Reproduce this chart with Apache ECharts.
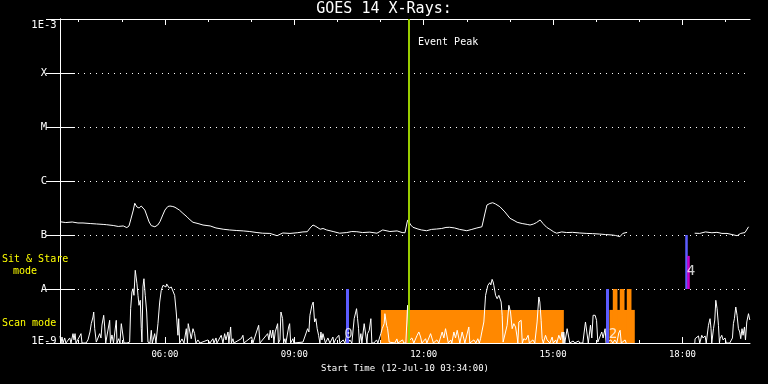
<!DOCTYPE html>
<html><head><meta charset="utf-8">
<script src="https://cdn.jsdelivr.net/npm/echarts@6/dist/echarts.min.js"></script>
<style>html,body{margin:0;padding:0;background:#000}#c{width:768px;height:384px}</style>
</head><body><div id="c"></div>
<script>
// Time axis: minutes elapsed since the start time 03:34:00
const startClockMin = 3 * 60 + 34;
const axisSpanMin = 960;
const hourTicks = [26,86,146,206,266,326,386,446,506,566,626,686,746,806,866,926];
const labelTicks = [146,326,506,686,866];
const yLevelLabels = ['1E-9','A','B','C','M','X','1E-3'];

// GOES long channel (upper curve)
const hiTime = [0,8,17,25,32,42,51,60,65,74,
81,88,93,96,99,102,104,107,110,113,
115,118,121,124,127,132,136,139,143,146,
150,153,157,160,166,171,177,181,185,192,
199,209,217,227,236,246,255,264,274,282,
292,302,310,320,330,338,344,348,352,356,
362,366,371,380,389,399,406,413,421,431,
441,449,459,469,476,480,483,484,488,491,
498,503,510,517,524,531,537,542,549,556,
566,573,580,587,591,594,598,602,606,612,
619,626,633,636,643,650,654,659,663,668,
672,677,683,687,691,698,705,713,723,733,
741,751,759,768,773,779,783,789,836,883,
890,898,907,914,921,928,935,942,947,953,
955,958];
const hiFlux = [1.76e-7,1.70e-7,1.74e-7,1.67e-7,1.67e-7,1.63e-7,1.60e-7,1.57e-7,1.55e-7,1.50e-7,
1.44e-7,1.47e-7,1.37e-7,1.47e-7,2.06e-7,2.90e-7,3.87e-7,3.30e-7,3.16e-7,3.44e-7,
3.59e-7,2.90e-7,2.25e-7,1.74e-7,1.49e-7,1.42e-7,1.53e-7,1.76e-7,2.35e-7,2.90e-7,
3.37e-7,3.44e-7,3.37e-7,3.26e-7,2.90e-7,2.52e-7,2.15e-7,1.90e-7,1.72e-7,1.63e-7,
1.53e-7,1.47e-7,1.35e-7,1.28e-7,1.24e-7,1.21e-7,1.19e-7,1.16e-7,1.11e-7,1.08e-7,
1.07e-7,9.7e-8,1.09e-7,1.07e-7,1.10e-7,1.14e-7,1.15e-7,1.35e-7,1.53e-7,1.44e-7,
1.28e-7,1.32e-7,1.24e-7,1.16e-7,1.08e-7,1.11e-7,1.16e-7,1.15e-7,1.11e-7,1.13e-7,
1.08e-7,1.24e-7,1.16e-7,1.19e-7,1.11e-7,1.10e-7,1.74e-7,1.90e-7,1.53e-7,1.39e-7,
1.29e-7,1.24e-7,1.20e-7,1.27e-7,1.29e-7,1.32e-7,1.38e-7,1.39e-7,1.35e-7,1.27e-7,
1.20e-7,1.27e-7,1.35e-7,1.42e-7,2.45e-7,3.59e-7,3.83e-7,3.96e-7,3.75e-7,3.34e-7,
2.67e-7,2.04e-7,1.82e-7,1.72e-7,1.63e-7,1.57e-7,1.53e-7,1.60e-7,1.70e-7,1.90e-7,
1.63e-7,1.39e-7,1.24e-7,1.14e-7,1.08e-7,1.14e-7,1.11e-7,1.12e-7,1.09e-7,1.07e-7,
1.06e-7,1.04e-7,1.02e-7,1.00e-7,9.8e-8,9.3e-8,1.07e-7,1.12e-7,null,1.08e-7,
1.07e-7,1.14e-7,1.10e-7,1.12e-7,1.07e-7,1.07e-7,1.02e-7,9.7e-8,1.07e-7,1.11e-7,
1.15e-7,1.42e-7];

// GOES short channel (lower, spiky curve)
const loTime = [0,1.4,2.8,4.2,6.5,8.3,13.5,15.3,18.1,19.5,
20.9,22.3,29.2,30.6,36.2,38.9,41.7,43.5,45.9,46.9,
48.3,50.5,52.9,55.2,57.0,58.4,60.8,62.2,63.6,65.4,
69.1,70.2,72.3,74.4,78.3,79.3,81.6,83.4,85.3,87.6,
89.0,93.2,96.9,98.3,100.1,101.5,102.9,104.7,106.1,107.1,
108.5,109.9,111.7,113.1,114.0,115.4,116.8,118.6,120.6,122.4,
125.2,127.0,128.4,131.7,133.5,136.3,138.7,140.9,143.3,145.6,
147.4,148.4,150.2,152.0,154.8,157.2,159.5,161.7,164.1,165.1,
166.5,169.7,172.5,175.7,177.3,178.4,180.4,182.6,185.0,187.3,
189.1,191.9,194.7,205.8,208.6,212.8,214.2,217.0,218.4,224.3,
226.7,229.1,230.9,233.7,235.0,237.4,238.5,240.6,242.0,252.2,
254.5,255.9,266.6,268.4,276.4,278.2,288.9,290.7,292.5,294.4,
296.2,297.6,299.4,302.8,303.9,306.0,307.4,309.7,311.1,312.9,
314.3,318.1,319.5,320.9,324.1,325.4,338.0,340.7,344.5,346.3,
347.7,350.5,352.3,354.2,356.0,357.8,359.8,361.6,363.0,364.4,
365.8,367.6,369.3,372.7,375.5,379.7,381.1,383.9,386.6,388.0,
389.4,394.0,396.4,399.2,400.6,403.3,406.1,409.3,412.6,414.0,
415.4,416.5,418.6,420.0,423.2,425.6,427.0,428.0,430.2,432.5,
433.9,436.7,440.5,442.3,446.4,448.3,451.0,452.0,454.4,455.8,
458.0,460.4,465.9,468.7,470.1,476.6,478.4,481.2,483.6,485.4,
486.8,489.6,492.3,496.9,499.3,501.7,503.5,508.6,510.4,515.6,
517.8,519.5,524.3,527.1,531.7,534.1,536.4,538.7,540.3,543.8,
545.2,548.0,550.3,552.6,554.9,556.3,559.5,561.9,563.3,568.8,
570.2,575.8,578.6,581.3,583.4,585.1,586.9,589.7,592.1,595.3,
598.0,599.4,601.2,602.6,603.6,606.0,608.2,610.6,612.9,613.8,
615.2,616.5,618.9,622.1,624.5,626.8,629.1,631.4,633.8,636.0,
637.0,638.4,641.6,643.2,645.3,648.1,651.3,653.0,657.9,660.6,
663.8,666.2,667.6,669.4,670.8,672.4,675.5,677.7,680.1,681.5,
684.7,686.3,689.8,691.2,694.0,696.4,698.6,700.0,700.9,702.3,
705.6,707.9,709.3,713.9,716.3,721.4,723.2,727.4,731.1,733.4,
735.0,738.1,739.9,741.7,742.3,744.5,746.5,748.3,749.6,753.8,
755.6,758.4,759.8,762.2,766.3,769.1,771.9,774.7,777.4,779.3,
780.9,786.2,787.8,836,883.2,883.6,886.0,888.3,890.1,892.9,
894.7,897.5,899.1,902.2,904.4,905.8,906.8,909.2,911.0,912.4,
914.2,916.1,917.5,918.3,920.7,922.5,925.3,926.9,931.8,935.6,
936.9,938.3,940.2,942.0,943.9,945.7,947.1,948.9,950.3,952.3,
953.7,955.5,957.9,959.7];
const loFlux = [1.35e-9,1e-9,1.29e-9,1e-9,1.24e-9,1e-9,1.24e-9,1e-9,1.49e-9,1.14e-9,
1.49e-9,1e-9,1.49e-9,1e-9,1e-9,1.14e-9,1.6e-9,2.28e-9,3.03e-9,3.75e-9,
1.84e-9,1.04e-9,1e-9,1.49e-9,1.24e-9,2.15e-9,3.26e-9,1.98e-9,1e-9,1e-9,
2.63e-9,1e-9,1.41e-9,1e-9,2.63e-9,1e-9,1.2e-9,1e-9,2.28e-9,2.28e-9,
1e-9,1e-9,1.04e-9,4.32e-9,8.8e-9,10.1e-9,7.64e-9,22.2e-9,20.6e-9,12.5e-9,
7.64e-9,4.99e-9,6.18e-9,1.84e-9,1.04e-9,10.9e-9,15.5e-9,7.64e-9,3.75e-9,1.04e-9,
1e-9,1.72e-9,1e-9,1.49e-9,1e-9,2.28e-9,5.74e-9,9.46e-9,11.7e-9,12.5e-9,
10.9e-9,12.4e-9,11.7e-9,10.4e-9,10.9e-9,10.1e-9,7.64e-9,3.75e-9,1.39e-9,2.82e-9,
1e-9,1.19e-9,1e-9,1.84e-9,1e-9,2.28e-9,2.15e-9,1.2e-9,1.84e-9,1.49e-9,
1e-9,1.14e-9,1e-9,1.14e-9,1e-9,1.2e-9,1e-9,1.24e-9,1e-9,1.39e-9,
1e-9,1.49e-9,1.14e-9,1.6e-9,1e-9,1.98e-9,1e-9,1.2e-9,1e-9,1.2e-9,
1.39e-9,1e-9,1.29e-9,1e-9,2.13e-9,1e-9,1.49e-9,1.14e-9,1.72e-9,1.24e-9,
1.74e-9,1e-9,1.6e-9,2.28e-9,1e-9,1.14e-9,3.75e-9,2.82e-9,1e-9,1.2e-9,
1e-9,1.98e-9,2.28e-9,1e-9,1.2e-9,1e-9,1.04e-9,1e-9,1.84e-9,1.6e-9,
3.26e-9,4.99e-9,5.74e-9,2.45e-9,2.82e-9,1.84e-9,1.39e-9,1e-9,1.6e-9,1.14e-9,
1.49e-9,1.49e-9,1e-9,1.24e-9,1e-9,1.29e-9,1e-9,1.2e-9,1.14e-9,1.39e-9,
1e-9,1.14e-9,1e-9,1.49e-9,1e-9,1.14e-9,1e-9,2.82e-9,4.32e-9,2.82e-9,
1.84e-9,1e-9,1.49e-9,1e-9,2.28e-9,2.28e-9,1e-9,1.49e-9,1.72e-9,2.82e-9,
1e-9,1e-9,1.14e-9,1e-9,1.49e-9,1.84e-9,2.28e-9,3.49e-9,2.13e-9,1.84e-9,
1.04e-9,1e-9,1e-9,1.19e-9,1e-9,1.14e-9,1e-9,1e-9,4.99e-9,1.29e-9,
1.14e-9,1.24e-9,1e-9,1.39e-9,1.6e-9,1.29e-9,1e-9,1.2e-9,1e-9,1.49e-9,
1.49e-9,1e-9,1.14e-9,1e-9,1.6e-9,1.24e-9,1.84e-9,1.98e-9,1e-9,1.14e-9,
1e-9,1.6e-9,1.24e-9,1.72e-9,1.72e-9,1e-9,1.6e-9,1.6e-9,1e-9,1.98e-9,
1e-9,1.14e-9,1e-9,1.2e-9,1e-9,1.2e-9,1.6e-9,2.45e-9,7.64e-9,11.7e-9,
13.1e-9,11.9e-9,15.1e-9,13.5e-9,11.7e-9,7.64e-9,6.61e-9,7.64e-9,7.11e-9,5.74e-9,
3.26e-9,1.04e-9,1e-9,2.13e-9,4.99e-9,3.75e-9,1.84e-9,2.28e-9,1.98e-9,1.29e-9,
1e-9,2.45e-9,2.63e-9,1e-9,1.2e-9,1.14e-9,1.39e-9,1e-9,1.14e-9,1e-9,
2.45e-9,7.11e-9,5.74e-9,2.63e-9,1.2e-9,1e-9,1.39e-9,1.14e-9,1.2e-9,1e-9,
1.29e-9,1e-9,1.14e-9,1e-9,1.39e-9,1.14e-9,1.6e-9,1e-9,1.6e-9,1e-9,
1.84e-9,1.84e-9,1e-9,1.09e-9,1e-9,1.09e-9,1e-9,1e-9,2.45e-9,2.28e-9,
1e-9,2.15e-9,1.24e-9,3.26e-9,3.49e-9,3.26e-9,2.63e-9,1.04e-9,1e-9,1.6e-9,
1.24e-9,1.84e-9,1e-9,1e-9,1.14e-9,1e-9,1.14e-9,1e-9,1.53e-9,1.72e-9,
1e-9,1.14e-9,1e-9,null,1e-9,1.2e-9,1.14e-9,1.35e-9,1e-9,1.39e-9,
1.24e-9,1.35e-9,1e-9,2.13e-9,2.82e-9,1.84e-9,1e-9,1.84e-9,2.67e-9,6.18e-9,
4.32e-9,2.13e-9,1e-9,1.2e-9,1.39e-9,1.14e-9,1.24e-9,1e-9,1e-9,1.24e-9,
2.28e-9,2.82e-9,4.64e-9,3.26e-9,1.84e-9,1.6e-9,1.2e-9,1.84e-9,1.39e-9,1.98e-9,
1.14e-9,2.45e-9,3.49e-9,2.67e-9];

// Observing-mode blocks (orange)
const modeStart = [446.4, 764.5, 769.1, 778.8, 788.6];
const modeEnd   = [701.0, 799.7, 775.6, 785.4, 795.1];
const modeTop   = [4.1e-9, 4.1e-9, 1e-8, 1e-8, 1e-8];
const modeBase  = 1e-9;

// Vertical event markers
const markTime  = [399.6, 761.4, 871.8, 874.6];
const markLow   = [1e-9, 1e-9, 1e-8, 1e-8];
const markHigh  = [1e-8, 1e-8, 1e-7, 4.1e-8];
const markKind  = ['blue', 'blue', 'blue', 'magenta'];

// Event number labels
const numText = ['0', '2', '4'];
const numTime = [401.5, 769.5, 878];
const numFlux = [1.47e-9, 1.47e-9, 2.1e-8];

// Event peak time
const peakTime = 485.4;

const colors = { blue: '#5c5cff', magenta: '#cc00cc' };
const mono = '"DejaVu Sans Mono", "Liberation Mono", monospace';

function clock(v) {
  const t = startClockMin + v;
  const h = Math.floor(t / 60) % 24, m = Math.round(t % 60);
  return String(h).padStart(2, '0') + ':' + String(m).padStart(2, '0');
}

const chart = echarts.init(document.getElementById('c'), null, { renderer: 'canvas' });
const baseX = { type: 'value', min: 0, max: axisSpanMin, splitLine: { show: false } };
const baseY = { type: 'log', logBase: 10, min: 1e-9, max: 1e-3 };

chart.setOption({
  backgroundColor: '#000',
  animation: false,
  title: {
    text: 'GOES 14 X-Rays:', left: 'center', top: 2, padding: 0,
    textStyle: { color: '#fff', fontFamily: mono, fontSize: 15, fontWeight: 'normal' }
  },
  grid: { left: 60, right: 18, top: 19, bottom: 41 },
  xAxis: [
    Object.assign({}, baseX, {
      position: 'bottom',
      axisLine: { show: true, lineStyle: { color: '#fff', width: 1 } },
      axisTick: { show: true, inside: true, length: 6, customValues: labelTicks, lineStyle: { color: '#fff' } },
      axisLabel: { show: true, customValues: labelTicks, formatter: clock, color: '#fff', fontFamily: mono, fontSize: 9, margin: 7 },
      name: 'Start Time (12-Jul-10 03:34:00)', nameLocation: 'middle', nameGap: 19,
      nameTextStyle: { color: '#fff', fontFamily: mono, fontSize: 9 }
    }),
    Object.assign({}, baseX, {
      position: 'bottom',
      axisLine: { show: false },
      axisTick: { show: true, inside: true, length: 3, customValues: hourTicks, lineStyle: { color: '#fff' } },
      axisLabel: { show: false }
    }),
    Object.assign({}, baseX, {
      position: 'top',
      axisLine: { show: true, lineStyle: { color: '#fff', width: 1 } },
      axisTick: { show: true, inside: true, length: 6, customValues: labelTicks, lineStyle: { color: '#fff' } },
      axisLabel: { show: false }
    }),
    Object.assign({}, baseX, {
      position: 'top',
      axisLine: { show: false },
      axisTick: { show: true, inside: true, length: 3, customValues: hourTicks, lineStyle: { color: '#fff' } },
      axisLabel: { show: false }
    })
  ],
  yAxis: [
    Object.assign({}, baseY, {
      position: 'left',
      axisLine: { show: true, lineStyle: { color: '#fff', width: 1 } },
      axisTick: { show: true, inside: true, length: 15, lineStyle: { color: '#fff' } },
      axisLabel: {
        color: '#fff', fontFamily: mono, fontSize: 10.5, align: 'center', margin: 16,
        formatter: function (v) {
          const i = Math.round(Math.log10(v)) + 9;
          const s = yLevelLabels[i];
          if (i === 0) return '{lo|' + s + '}';
          if (i === yLevelLabels.length - 1) return '{hi|' + s + '}';
          return s;
        },
        rich: {
          lo: { color: '#fff', fontFamily: mono, fontSize: 10.5, padding: [0, 0, 3, 0] },
          hi: { color: '#fff', fontFamily: mono, fontSize: 10.5, padding: [12, 0, 0, 0] }
        }
      },
      splitLine: { show: true, lineStyle: { color: '#fff', width: 1, type: [1, 5] } }
    }),
    Object.assign({}, baseY, {
      position: 'right',
      axisLine: { show: true, lineStyle: { color: '#fff', width: 1 } },
      axisTick: { show: true, inside: true, length: 14, lineStyle: { color: '#fff' } },
      axisLabel: { show: false },
      splitLine: { show: false }
    })
  ],
  graphic: [
    { type: 'text', z: 10, style: { text: 'Sit & Stare', x: 2, y: 259, verticalAlign: 'middle', fill: '#ffff00', font: '10px ' + mono } },
    { type: 'text', z: 10, style: { text: 'mode', x: 13, y: 271, verticalAlign: 'middle', fill: '#ffff00', font: '10px ' + mono } },
    { type: 'text', z: 10, style: { text: 'Scan mode', x: 2, y: 323.5, verticalAlign: 'middle', fill: '#ffff00', font: '10px ' + mono } },
    { type: 'text', z: 10, style: { text: 'Event Peak', x: 418, y: 42, verticalAlign: 'middle', fill: '#fff', font: '10px ' + mono } }
  ],
  series: [
    {
      name: 'modes', type: 'line', data: [], z: 1, silent: true,
      markArea: {
        silent: true,
        itemStyle: { color: '#ff8800', opacity: 1 },
        data: modeStart.map((s, i) => [{ coord: [s, modeBase] }, { coord: [modeEnd[i], modeTop[i]] }])
      }
    },
    {
      name: 'low', type: 'line', z: 3, showSymbol: false, symbol: 'none', connectNulls: false,
      lineStyle: { color: '#fff', width: 1 }, silent: true,
      data: loTime.map((t, i) => [t, loFlux[i]])
    },
    {
      name: 'high', type: 'line', z: 3, showSymbol: false, symbol: 'none', connectNulls: false,
      lineStyle: { color: '#fff', width: 1 }, silent: true,
      data: hiTime.map((t, i) => [t, hiFlux[i]])
    },
    {
      name: 'markers', type: 'line', data: [], z: 4, silent: true,
      markLine: {
        silent: true, symbol: ['none', 'none'], label: { show: false },
        data: markTime.map((t, i) => [
          { coord: [t, markLow[i]], lineStyle: { color: colors[markKind[i]], width: markKind[i] === 'blue' && i < 2 ? 3 : 2.5, type: 'solid' } },
          { coord: [t, markHigh[i]] }
        ])
      }
    },
    {
      name: 'peak', type: 'line', data: [], z: 5, silent: true,
      markLine: {
        silent: true, symbol: ['none', 'none'], label: { show: false },
        lineStyle: { color: '#99cc00', width: 2, type: 'solid' },
        data: [{ xAxis: peakTime }]
      }
    },
    {
      name: 'numbers', type: 'scatter', z: 6, silent: true, symbolSize: 1,
      itemStyle: { color: 'rgba(0,0,0,0)' },
      label: { show: true, position: 'inside', color: '#fff', fontFamily: mono, fontSize: 14, formatter: p => p.name },
      data: numText.map((s, i) => ({ name: s, value: [numTime[i], numFlux[i]] }))
    }
  ]
});
</script>
</body></html>
